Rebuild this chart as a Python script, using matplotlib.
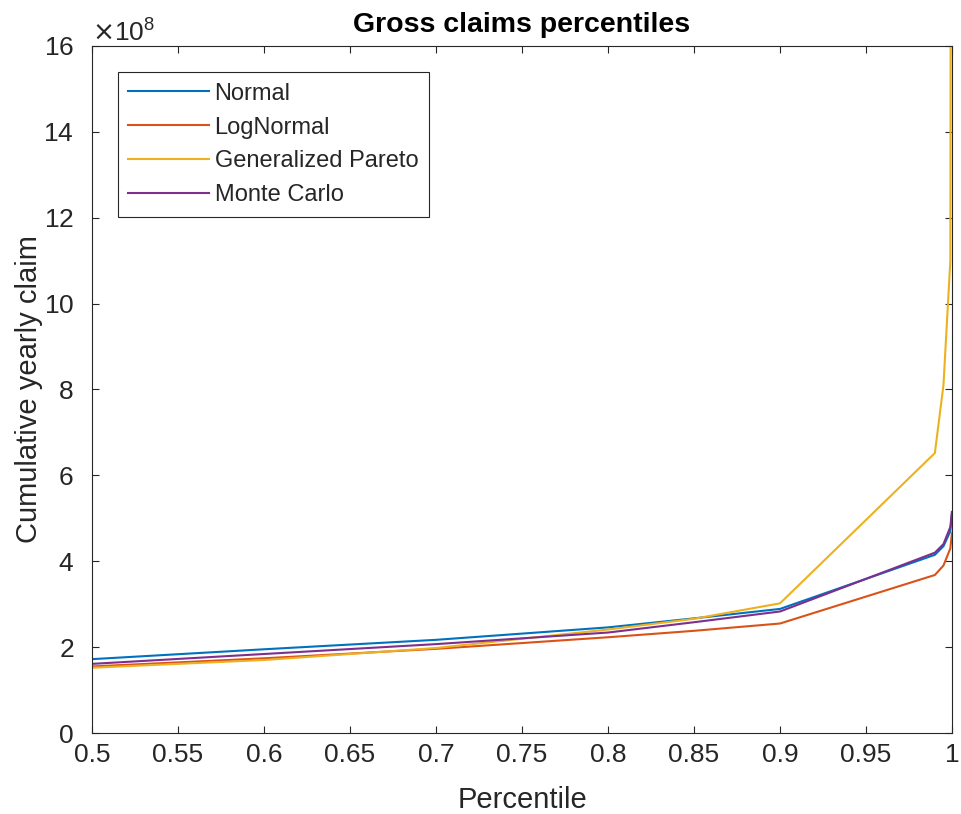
import numpy as np
import matplotlib
matplotlib.use("Agg")
import matplotlib.pyplot as plt
import matplotlib.ticker as ticker

# percentile levels and quantiles (in units of 1e8)
percentiles = [0.5, 0.6, 0.7, 0.8, 0.85, 0.9, 0.99, 0.995, 0.999, 0.9999]
normal = [1.72, 1.95, 2.17, 2.46, 2.67, 2.89, 4.15, 4.35, 4.70, 5.10]
lognormal = [1.55, 1.74, 1.96, 2.23, 2.38, 2.55, 3.68, 3.90, 4.30, 4.65]
gen_pareto = [1.52, 1.70, 1.98, 2.41, 2.66, 3.02, 6.52, 8.10, 11.0, 40.0]
monte_carlo = [1.61, 1.84, 2.07, 2.34, 2.58, 2.83, 4.20, 4.40, 4.80, 5.15]

series = [("Normal", normal, "#0072BD"),
          ("LogNormal", lognormal, "#D95319"),
          ("Generalized Pareto", gen_pareto, "#EDB120"),
          ("Monte Carlo", monte_carlo, "#7E2F8E")]

plt.rcParams.update({"font.family": ["Liberation Sans", "DejaVu Sans"],
                     "font.size": 19})
axcol = "#262626"

fig = plt.figure(figsize=(9.61, 8.14), dpi=100)
ax = fig.add_axes([0.0957, 0.0995, 0.8950, 0.844])

for name, vals, col in series:
    ax.plot(percentiles, np.array(vals) * 1e8, color=col, lw=1.5, label=name)

ax.set_xlim(0.5, 1.0)
ax.set_ylim(0, 16e8)
ax.set_xticks(np.arange(0.5, 1.001, 0.05))
ax.xaxis.set_major_formatter(ticker.FuncFormatter(lambda v, p: "%g" % round(v, 2)))
ax.yaxis.set_major_locator(ticker.MultipleLocator(2e8))
fmt = ticker.ScalarFormatter(useMathText=True, useOffset=False)
fmt.set_powerlimits((8, 8))
ax.yaxis.set_major_formatter(fmt)
ax.yaxis.get_offset_text().set_fontsize(19)
ax.yaxis.get_offset_text().set_color("#555555")

ax.tick_params(direction="in", top=True, right=True, length=5, width=0.8,
               colors=axcol, labelsize=19)
ax.tick_params(axis="x", pad=7)
ax.tick_params(axis="y", pad=13)
for s in ax.spines.values():
    s.set_color(axcol)
    s.set_linewidth(0.8)

ax.set_xlabel("Percentile", fontsize=21, color=axcol, labelpad=14)
ax.set_ylabel("Cumulative yearly claim", fontsize=21, color=axcol, labelpad=0)
ax.set_title("Gross claims percentiles", fontsize=20.5, fontweight="bold", pad=10)

leg = ax.legend(loc="upper left", bbox_to_anchor=(0.030, 0.962), fontsize=17,
                fancybox=False, framealpha=1, edgecolor=axcol, handlelength=3.4,
                borderpad=0.45, labelspacing=0.5, borderaxespad=0, handletextpad=0.25)
leg.get_frame().set_linewidth(0.8)
for t in leg.get_texts():
    t.set_color(axcol)

fig.savefig("out.png", dpi=100)
